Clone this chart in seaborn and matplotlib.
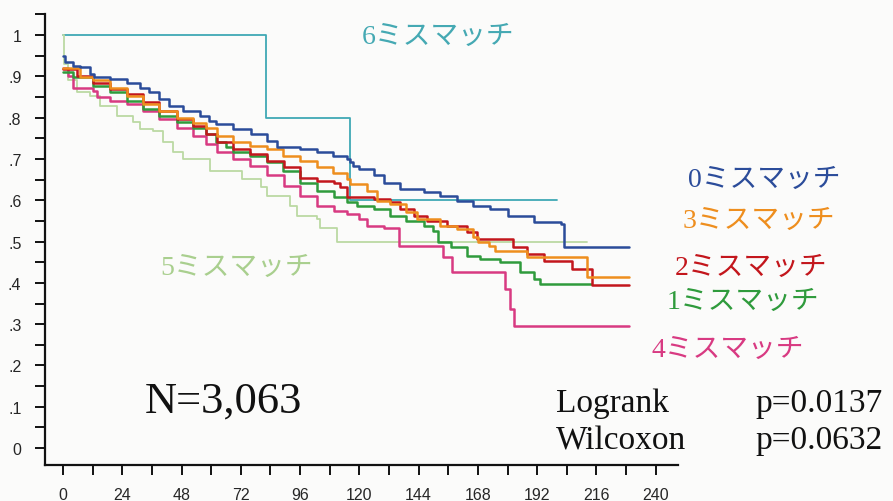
import matplotlib
matplotlib.use("Agg")
import matplotlib.pyplot as plt
import seaborn as sns
import pandas as pd
from matplotlib.ticker import MultipleLocator, FuncFormatter

# ---- data (months, survival) ----
t6 = [0, 82, 116, 200]
s6 = [1.0, 0.8, 0.6, 0.6]

t0 = [0, 0.8, 4, 7, 11, 12.5, 19, 26, 31, 35, 39, 43, 48.6, 55.5, 59, 62, 69, 76, 82.6, 86.6,
      96, 103, 109.5, 115, 116, 117.6, 120, 125.8, 130, 136.6, 146, 152.8, 159.6, 166, 173, 180,
      190.5, 201.5, 203, 229]
s0 = [0.950, 0.934, 0.926, 0.922, 0.906, 0.898, 0.893, 0.885, 0.873, 0.861, 0.845, 0.829, 0.817,
      0.805, 0.793, 0.785, 0.772, 0.760, 0.744, 0.728, 0.724, 0.716, 0.708, 0.700, 0.692, 0.684,
      0.676, 0.660, 0.643, 0.627, 0.619, 0.611, 0.599, 0.587, 0.579, 0.562, 0.547, 0.542, 0.487, 0.487]

t3 = [0, 7, 12, 19, 26, 32.5, 39, 46, 52.8, 58, 62.3, 69, 75.8, 82.6, 89, 96, 103, 109.5, 115,
      116.3, 123, 127, 132.5, 139, 143.4, 152.8, 159.6, 166, 168, 172.4, 175, 188, 212, 229]
s3 = [0.921, 0.898, 0.890, 0.873, 0.853, 0.833, 0.817, 0.800, 0.788, 0.776, 0.756, 0.740, 0.732,
      0.724, 0.708, 0.696, 0.680, 0.667, 0.651, 0.639, 0.623, 0.599, 0.591, 0.571, 0.554, 0.538,
      0.530, 0.510, 0.500, 0.490, 0.478, 0.462, 0.413, 0.413]

t2 = [0, 5.5, 12, 19, 26, 32.5, 39, 46, 52.8, 58, 62.3, 69, 75.8, 82.6, 89.3, 96, 103, 109.6,
      112, 115, 125.8, 132.5, 136.6, 142, 147.4, 155.5, 163.6, 167.7, 182, 188, 194.6, 206, 214, 229]
s2 = [0.918, 0.900, 0.885, 0.869, 0.857, 0.837, 0.817, 0.797, 0.780, 0.760, 0.740, 0.724, 0.712,
      0.696, 0.680, 0.655, 0.647, 0.643, 0.631, 0.607, 0.603, 0.595, 0.579, 0.563, 0.551, 0.538,
      0.522, 0.506, 0.486, 0.470, 0.454, 0.433, 0.395, 0.395]

t1 = [0, 4, 12, 19, 26, 32.5, 39, 46, 52.8, 58, 62, 66, 69, 75.8, 82.6, 89, 96, 103, 109.6, 115,
      119, 125.8, 132.5, 139, 146, 150, 152, 157, 163.6, 169, 177, 185, 190.5, 193, 213.6]
s1 = [0.910, 0.898, 0.877, 0.861, 0.841, 0.821, 0.805, 0.789, 0.776, 0.760, 0.740, 0.728, 0.716,
      0.708, 0.692, 0.672, 0.643, 0.623, 0.607, 0.595, 0.587, 0.579, 0.563, 0.551, 0.538, 0.526,
      0.498, 0.486, 0.466, 0.458, 0.450, 0.426, 0.409, 0.397, 0.397]

t4 = [0, 2, 4, 12, 13.6, 19, 25.8, 32.5, 39, 46, 52.8, 58, 62.3, 69, 75.8, 82.6, 89.3, 96, 103,
      109.6, 115, 120, 123, 130, 136, 154, 157.5, 179, 181, 182.5, 229]
s4 = [0.920, 0.900, 0.873, 0.865, 0.849, 0.841, 0.833, 0.817, 0.797, 0.776, 0.756, 0.736, 0.716,
      0.700, 0.684, 0.660, 0.635, 0.611, 0.587, 0.575, 0.567, 0.554, 0.538, 0.534, 0.490, 0.462,
      0.426, 0.385, 0.337, 0.296, 0.296]

t5 = [0, 0.5, 2, 5.5, 11, 15, 21.8, 28.4, 31, 36.5, 40.6, 44.7, 48.7, 59.6, 72.4, 80, 82.6, 92,
      94.7, 102.8, 104, 111, 212]
s5 = [1.0, 0.930, 0.890, 0.861, 0.853, 0.829, 0.805, 0.789, 0.772, 0.768, 0.740, 0.716, 0.700,
      0.672, 0.651, 0.631, 0.611, 0.587, 0.563, 0.554, 0.534, 0.498, 0.498]

groups = ["6", "5", "4", "1", "2", "3", "0"]
series = {"0": (t0, s0), "1": (t1, s1), "2": (t2, s2), "3": (t3, s3),
          "4": (t4, s4), "5": (t5, s5), "6": (t6, s6)}
labels = {g: f"{g}ミスマッチ" for g in groups}
colors = {"6": "#3FA9B5", "0": "#2B4C9A", "3": "#EE8E1E", "2": "#C3161C",
          "1": "#2F9B3C", "4": "#D83A82", "5": "#BBD9A3"}
widths = {"6": 1.3, "5": 1.3, "4": 1.8, "1": 1.8, "2": 1.8, "3": 1.8, "0": 1.8}

sns.set_style("ticks")
plt.rcParams["font.family"] = ["DejaVu Sans"]

W, H = 893, 502
fig = plt.figure(figsize=(W / 100, H / 100), dpi=100, facecolor="#fbfbfa")
ax = fig.add_axes([45 / W, 1 - 466 / H, (678 - 45) / W, (466 - 15) / H])
ax.set_facecolor("#fbfbfa")

for g in groups:
    t, s = series[g]
    df = pd.DataFrame({"t": t, "s": s})
    sns.lineplot(data=df, x="t", y="s", ax=ax, color=colors[g], linewidth=widths[g],
                 drawstyle="steps-post", estimator=None, sort=False)

ax.set_xlim(-7.3, 249)
ax.set_ylim(-0.041, 1.051)
ax.set_xlabel("")
ax.set_ylabel("")
for sp in ["top", "right"]:
    ax.spines[sp].set_visible(False)
for sp in ["left", "bottom"]:
    ax.spines[sp].set_linewidth(1.6)
    ax.spines[sp].set_color("#111111")

ax.xaxis.set_minor_locator(MultipleLocator(12))
ax.yaxis.set_minor_locator(MultipleLocator(0.05))
ax.set_xticks([x for x in range(0, 241, 24)])
ax.set_yticks([i / 10 for i in range(0, 11)])


def yfmt(v, pos):
    if abs(v) < 1e-9:
        return "0"
    if abs(v - 1) < 1e-9:
        return "1"
    return ("%.1f" % v)[1:]


ax.yaxis.set_major_formatter(FuncFormatter(yfmt))
ax.tick_params(axis="both", which="both", direction="out", length=7, width=1.4, color="#111111")
ax.tick_params(axis="y", which="major", pad=10, labelsize=11.5)
ax.tick_params(axis="x", which="major", pad=9, labelsize=11.5)
for lab in ax.get_xticklabels() + ax.get_yticklabels():
    lab.set_family(["Liberation Sans Narrow", "Liberation Sans"])

jp = ["Liberation Serif", "Noto Sans CJK JP"]
label_pos = {"6": (362, 37), "0": (688, 180), "3": (683, 221), "2": (675, 268),
             "1": (667, 302), "4": (652, 350), "5": (160, 268)}
text_colors = {"6": "#45A9B3", "0": "#2B4C9A", "3": "#EE8E1E", "2": "#C3161C",
               "1": "#2F9B3C", "4": "#D83A82", "5": "#A9CF8E"}
for g, (px, py) in label_pos.items():
    fig.text(px / W, 1 - py / H, labels[g], color=text_colors[g], fontsize=20,
             family=jp, ha="left", va="center")

serif = ["Liberation Serif"]
fig.text(145 / W, 1 - 402 / H, "N=3,063", fontsize=32, family=serif, ha="left", va="center",
         color="#111111")
fig.text(556 / W, 1 - 404 / H, "Logrank", fontsize=24, family=serif, ha="left", va="center",
         color="#111111")
fig.text(556 / W, 1 - 441 / H, "Wilcoxon", fontsize=24, family=serif, ha="left", va="center",
         color="#111111")
fig.text(755 / W, 1 - 404 / H, "p=0.0137", fontsize=24, family=serif, ha="left", va="center",
         color="#111111")
fig.text(755 / W, 1 - 441 / H, "p=0.0632", fontsize=24, family=serif, ha="left", va="center",
         color="#111111")

fig.savefig("out.png", dpi=100, facecolor=fig.get_facecolor())
